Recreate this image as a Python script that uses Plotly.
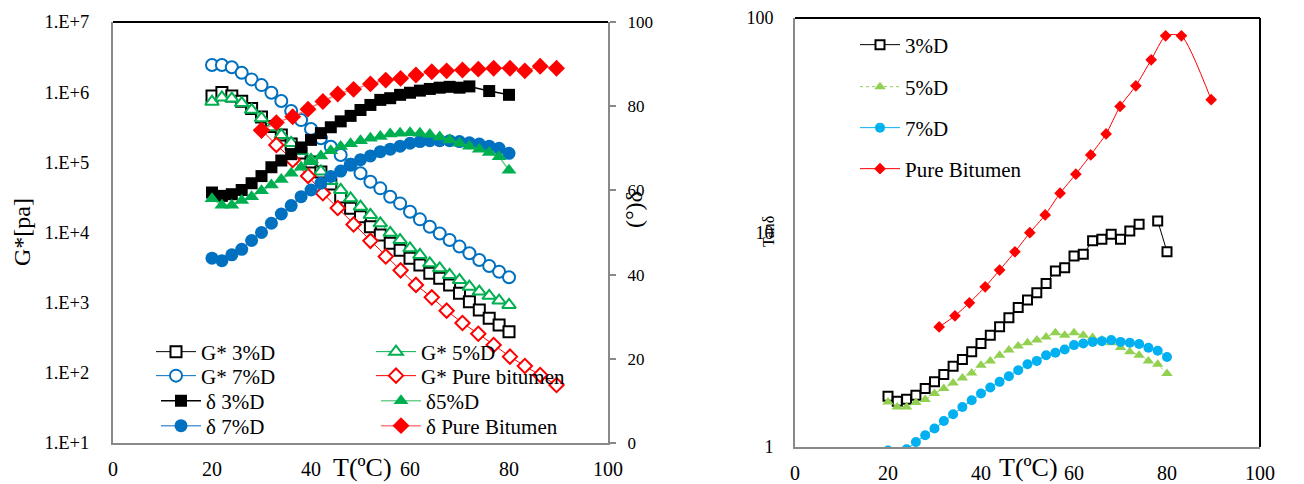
import plotly.graph_objects as go

# ---------------- data: left chart ----------------
T_mod = [20, 22, 24, 26, 28, 30, 32, 34, 36, 38, 40, 42, 44, 46, 48, 50, 52, 54, 56, 58,
         60, 62, 64, 66, 68, 70, 72, 74, 76, 78, 80]
T_pure = [30.0, 33.0, 36.3, 39.4, 42.4, 45.4, 48.6, 52.0, 55.1, 58.1, 61.2, 64.4, 67.4,
          70.6, 73.8, 76.9, 80.2, 83.2, 86.3, 89.6]
T_d3 = [20, 22, 24, 26, 28, 30, 32, 34, 36, 38, 40, 42, 44, 46, 48, 50, 52, 54, 56, 58,
        60, 62, 64, 66, 68, 70, 72, 76, 80]

G_3 = [8.8e5, 9.9e5, 8.8e5, 7.4e5, 5.85e5, 4.43e5, 3.24e5, 2.45e5, 1.83e5, 1.36e5, 1.01e5,
       7.3e4, 4.9e4, 3.2e4, 2.21e4, 1.68e4, 1.21e4, 9.2e3, 7.0e3, 5.6e3, 4.29e3, 3.44e3,
       2.62e3, 2.22e3, 1.79e3, 1.36e3, 1.03e3, 787, 599, 481, 386]
G_5 = [7.3e5, 8.4e5, 8.1e5, 7.0e5, 5.6e5, 4.25e5, 3.16e5, 2.45e5, 1.89e5, 1.45e5, 1.08e5,
       7.4e4, 5.4e4, 4.04e4, 3.07e4, 2.33e4, 1.78e4, 1.35e4, 9.9e3, 7.8e3, 5.96e3, 4.78e3,
       3.64e3, 3.09e3, 2.48e3, 2.10e3, 1.69e3, 1.44e3, 1.25e3, 1.07e3, 927]
G_7 = [2.44e6, 2.44e6, 2.26e6, 1.89e6, 1.52e6, 1.26e6, 9.8e5, 7.5e5, 5.4e5, 4.0e5, 2.98e5,
       2.2e5, 1.67e5, 1.27e5, 9.2e4, 7.0e4, 5.3e4, 4.26e4, 3.24e4, 2.6e4, 1.98e4, 1.54e4,
       1.21e4, 9.7e3, 7.8e3, 6.3e3, 5.06e3, 4.06e3, 3.33e3, 2.76e3, 2.3e3]
G_pure = [2.89e5, 1.77e5, 1.08e5, 6.4e4, 3.62e4, 2.23e4, 1.30e4, 7.6e3, 4.55e3, 2.89e3,
          1.79e3, 1.19e3, 769, 514, 361, 249, 170, 125, 93, 67]

d_3 = [59.5, 58.7, 59.1, 60.1, 61.7, 63.4, 65.5, 67.1, 68.6, 70.2, 72.0, 73.6, 75.0, 76.4,
       77.7, 79.1, 80.3, 81.5, 81.9, 82.7, 83.2, 83.7, 84.1, 84.4, 84.6, 84.4, 84.7, 83.6, 82.7]
d_5 = [58.0, 56.5, 56.5, 57.6, 58.5, 59.9, 61.3, 62.6, 64.1, 65.5, 66.8, 68.2, 69.4, 70.4,
       71.1, 71.8, 72.4, 72.8, 73.4, 73.6, 73.7, 73.6, 73.3, 72.7, 72.0, 71.2, 70.5, 69.8,
       69.0, 68.0, 64.8]
d_7 = [43.9, 43.3, 44.7, 46.0, 48.1, 50.0, 52.2, 54.4, 56.4, 58.5, 60.1, 61.7, 63.3, 64.6,
       66.2, 67.3, 68.2, 69.2, 69.8, 70.5, 71.2, 71.6, 71.8, 71.8, 71.8, 71.6, 71.3, 71.0,
       70.5, 70.0, 68.8]
d_pure = [74.2, 76.1, 77.5, 79.3, 81.1, 82.9, 84.0, 85.3, 86.2, 86.6, 87.4, 88.2, 88.4,
          88.6, 88.8, 89.0, 89.0, 88.4, 89.5, 89.0]

# ---------------- data: right chart (tan delta) ----------------
T_r3 = [20, 22, 24, 26, 28, 30, 32, 34, 36, 38, 40, 42, 44, 46, 48, 50, 52, 54, 56, 58,
        60, 62, 64, 66, 68, 70, 72, 74, 76, 78, 80]
tan_3 = [1.725, 1.635, 1.67, 1.743, 1.874, 2.012, 2.178, 2.381, 2.559, 2.777, 3.039, 3.323,
         3.634, 4.002, 4.475, 4.84, 5.236, 5.79, 6.61, 6.85, 7.77, 7.91, 9.16, 9.30, 9.81,
         9.30, 10.16, 10.92, None, 11.32, 8.14]
tan_5 = [1.622, 1.537, 1.537, 1.612, 1.665, 1.776, 1.874, 1.99, 2.10, 2.216, 2.406, 2.52,
         2.68, 2.83, 2.96, 3.06, 3.15, 3.26, 3.41, 3.32, 3.41, 3.32, 3.24, 3.15, 3.06, 2.91,
         2.78, 2.68, 2.52, 2.43, 2.20]
tan_7 = [0.962, 0.94, 0.976, 1.055, 1.134, 1.219, 1.323, 1.421, 1.537, 1.652, 1.776, 1.894,
         2.012, 2.138, 2.281, 2.433, 2.52, 2.68, 2.75, 2.85, 2.985, 3.04, 3.09, 3.115, 3.15,
         3.09, 3.06, 3.02, 2.90, 2.81, 2.63]
T_rp = [31.0, 34.4, 37.5, 40.9, 44.0, 47.3, 50.5, 53.8, 57.0, 60.4, 63.6, 66.9, 69.9, 73.3,
        76.6, 79.7, 83.1, 89.5]
tan_pure = [3.63, 4.09, 4.70, 5.58, 6.68, 8.13, 9.98, 12.07, 15.25, 18.70, 23.0, 28.8, 38.7,
            48.3, 63.8, 82.6, 82.6, 41.6]

y_ticks_left = [10, 100, 1e3, 1e4, 1e5, 1e6, 1e7]
y_ticktext_left = ["1.E+1", "1.E+2", "1.E+3", "1.E+4", "1.E+5", "1.E+6", "1.E+7"]

FONT = "Liberation Serif"
W, H = 1304, 484
OFF = 8  # page body margin: the figure is drawn 8 px right/down of the window corner
BLACK, GREEN, BLUE, RED = "#000000", "#00B050", "#0070C0", "#FF0000"

px = lambda v: (v - OFF) / W
py = lambda v: 1 - (v - OFF) / H

fig = go.Figure()


def open_trace(x, y, name, color, symbol, legend, size=11):
    return go.Scatter(x=x, y=y, name=name, mode="lines+markers", xaxis="x", yaxis="y",
                      line=dict(color=color, width=1),
                      marker=dict(symbol=symbol, size=size, color="white",
                                  line=dict(color=color, width=2)),
                      legend=legend, showlegend=True)


def filled_trace(x, y, name, color, linecolor, symbol, legend, size=12):
    return go.Scatter(x=x, y=y, name=name, mode="lines+markers", xaxis="x", yaxis="y2",
                      line=dict(color=linecolor, width=1.5),
                      marker=dict(symbol=symbol, size=size, color=color, line=dict(width=0)),
                      legend=legend, showlegend=True)


# G* traces (left log axis)
fig.add_trace(open_trace(T_mod, G_3, "G* 3%D", BLACK, "square", "legend"))
fig.add_trace(open_trace(T_mod, G_7, "G* 7%D", BLUE, "circle", "legend2", 12))
fig.add_trace(open_trace(T_mod, G_5, "G* 5%D", GREEN, "triangle-up", "legend5", 12))
fig.add_trace(open_trace(T_pure, G_pure, "G* Pure bitumen", RED, "diamond", "legend6", 11))
# delta traces (right linear axis)
fig.add_trace(filled_trace(T_d3, d_3, "δ 3%D", BLACK, BLACK, "square", "legend3"))
fig.add_trace(filled_trace(T_mod, d_7, "δ 7%D", BLUE, "#5B9BD5", "circle", "legend4", 13))
fig.add_trace(filled_trace(T_mod, d_5, "δ5%D", GREEN, "#6FD08F", "triangle-up", "legend7", 13))
fig.add_trace(filled_trace(T_pure, d_pure, "δ Pure Bitumen", RED, "#FF7F7F", "diamond", "legend8", 13))

# right chart
fig.add_trace(go.Scatter(x=T_r3, y=tan_3, name="3%D", mode="lines+markers", xaxis="x2", yaxis="y3",
                         line=dict(color=BLACK, width=1), connectgaps=False,
                         marker=dict(symbol="square", size=9, color="white",
                                     line=dict(color=BLACK, width=2)),
                         legend="legend9"))
fig.add_trace(go.Scatter(x=T_r3, y=tan_5, name="5%D", mode="lines+markers", xaxis="x2", yaxis="y3",
                         line=dict(color="#92D050", width=1, dash="dot"),
                         marker=dict(symbol="triangle-up", size=10, color="#92D050"),
                         legend="legend10"))
fig.add_trace(go.Scatter(x=T_r3, y=tan_7, name="7%D", mode="lines+markers", xaxis="x2", yaxis="y3",
                         line=dict(color="#00B0F0", width=1),
                         marker=dict(symbol="circle", size=10, color="#00B0F0"),
                         legend="legend11"))
fig.add_trace(go.Scatter(x=T_rp, y=tan_pure, name="Pure Bitumen", mode="lines+markers",
                         xaxis="x2", yaxis="y3",
                         line=dict(color=RED, width=1, shape="spline", smoothing=0.6),
                         marker=dict(symbol="diamond", size=9, color=RED),
                         legend="legend12"))

L0, L1 = px(113), px(608)
LB, LT = py(443), py(22)
R0, R1 = px(795), px(1260)
RB, RT = py(447), py(18)

GRAY = "#898989"
LEG_OFF = 52  # distance between legend x and its text start (px)


def leg(text_x, y_center):
    return dict(x=px(text_x - LEG_OFF), y=py(y_center), xanchor="left", yanchor="middle",
                font=dict(family=FONT, size=21, color="black"), bgcolor="rgba(0,0,0,0)",
                itemwidth=40, borderwidth=0, visible=True)


legends = {}
left_rows = [352, 376, 401, 426]
for i, (tx, yc) in enumerate([(203, left_rows[0]), (203, left_rows[1]),
                              (208, left_rows[2]), (208, left_rows[3]),
                              (423, left_rows[0]), (423, left_rows[1]),
                              (428, left_rows[2]), (428, left_rows[3])]):
    legends["legend" if i == 0 else f"legend{i + 1}"] = leg(tx, yc)
for j, yc in enumerate([45, 87, 128, 169]):
    legends[f"legend{9 + j}"] = leg(907, yc)


def ann(text, x, y, size, angle=0):
    return dict(text=text, x=px(x), y=py(y), xref="paper", yref="paper", showarrow=False,
                xanchor="center", yanchor="middle", textangle=angle,
                font=dict(family=FONT, size=size, color="black"))


fig.update_layout(
    width=W, height=H, margin=dict(l=0, r=0, t=0, b=0, autoexpand=False),
    showlegend=True,
    paper_bgcolor="white", plot_bgcolor="white",
    font=dict(family=FONT, color="black"),
    xaxis=dict(domain=[L0, L1], range=[0, 100], tickvals=[0, 20, 40, 60, 80, 100],
               showline=True, linecolor=GRAY, linewidth=2, showgrid=False, zeroline=False,
               ticks="", tickfont=dict(family=FONT, size=20, color="black"),
               ticklabelstandoff=7, anchor="y", automargin=False),
    yaxis=dict(domain=[LB, LT], type="log", range=[1, 7], tickvals=y_ticks_left,
               ticktext=y_ticktext_left, showline=True, linecolor=GRAY, linewidth=2,
               showgrid=False, zeroline=False, ticks="",
               tickfont=dict(family=FONT, size=18.5, color="black"),
               ticklabelstandoff=18, anchor="x", automargin=False),
    yaxis2=dict(overlaying="y", side="right", range=[0, 100], tickvals=[0, 20, 40, 60, 80, 100],
                showline=True, linecolor=GRAY, linewidth=2, showgrid=False, zeroline=False,
                ticks="outside", ticklen=6, tickcolor=GRAY, tickwidth=1.5,
                tickfont=dict(family=FONT, size=17, color="black"),
                ticklabelstandoff=8, anchor="x", automargin=False),
    xaxis2=dict(domain=[R0, R1], range=[0, 100], tickvals=[0, 20, 40, 60, 80, 100],
                showline=True, linecolor=GRAY, linewidth=2, showgrid=False, zeroline=False,
                ticks="", tickfont=dict(family=FONT, size=20, color="black"),
                ticklabelstandoff=7, anchor="y3", automargin=False),
    yaxis3=dict(domain=[RB, RT], type="log", range=[0, 2], tickvals=[1, 10, 100],
                ticktext=["1", "10", "100"], showline=True, linecolor=GRAY, linewidth=2,
                showgrid=False, zeroline=False, ticks="",
                tickfont=dict(family=FONT, size=18, color="black"),
                ticklabelstandoff=16, anchor="x2", automargin=False),
    shapes=[
        dict(type="line", xref="paper", yref="paper", x0=L0, x1=L1, y0=LT, y1=LT,
             line=dict(color="black", width=2)),
        dict(type="line", xref="paper", yref="paper", x0=R0, x1=R1, y0=RT, y1=RT,
             line=dict(color="black", width=2)),
        dict(type="line", xref="paper", yref="paper", x0=R1, x1=R1, y0=RB, y1=RT,
             line=dict(color="black", width=2)),
    ],
    annotations=[
        ann("G*[pa]", 22, 232, 24, -90),
        ann("T(ºC)", 362, 467, 26),
        ann("(°)δ", 634, 210, 24, -90),
        ann("T(ºC)", 1028, 467, 26),
        ann("Tanδ", 768, 232, 16, -90),
    ],
    **legends,
)

fig.write_html("out.html")
